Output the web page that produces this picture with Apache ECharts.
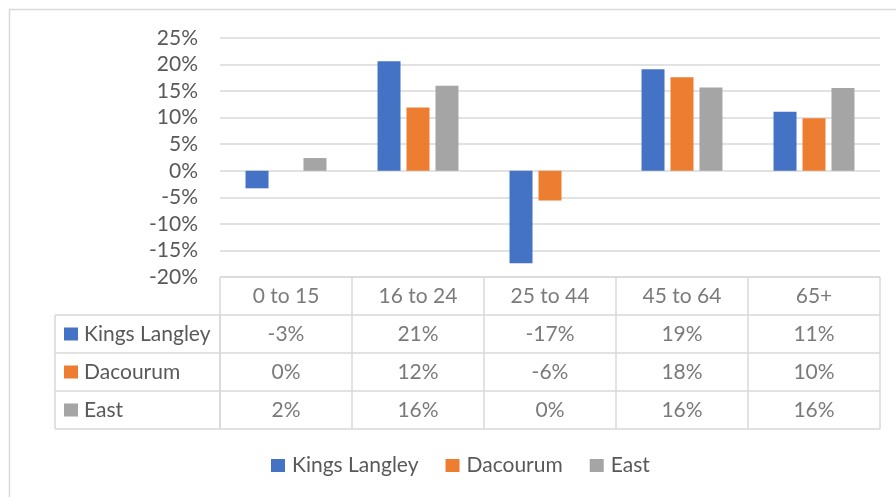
<!DOCTYPE html>
<html>
<head>
<meta charset="utf-8">
<script src="https://cdn.jsdelivr.net/npm/echarts@6/dist/echarts.min.js"></script>
<style>html,body{margin:0;padding:0;background:#fff;}#c{width:896px;height:497px;}</style>
</head>
<body>
<div id="c"></div>
<script>
const categories = ['0 to 15', '16 to 24', '25 to 44', '45 to 64', '65+'];
const seriesNames = ['Kings Langley', 'Dacourum', 'East'];
const kingsLangley = [-3.3, 20.6, -17.4, 19.1, 11.1];
const dacourum = [0, 11.9, -5.6, 17.6, 9.9];
const east = [2.4, 16.0, 0, 15.7, 15.6];
const yMin = -20, yMax = 25, yStep = 5;

const colors = ['#4472C4', '#ED7D31', '#A5A5A5'];
const FONT = 'Lato';
const FS = 21;
const TXT = '#595959';
const LINE = '#d9d9d9';

const allSeries = [kingsLangley, dacourum, east];

// table cells built from the arrays
const cellData = [];
categories.forEach((c, i) => cellData.push([i, 0.5, c]));
allSeries.forEach((arr, r) => arr.forEach((v, i) => cellData.push([i, r + 1.5, Math.round(v) + '%'])));

const rich = { t: { fontFamily: FONT, fontSize: FS, color: TXT, padding: [0, 0, 0, 6] } };
colors.forEach((col, i) => { rich['s' + i] = { width: 14, height: 13, backgroundColor: col }; });

const chart = echarts.init(document.getElementById('c'), null, { renderer: 'canvas' });
chart.setOption({
  animation: false,
  color: colors,
  textStyle: { fontFamily: FONT },
  graphic: [{
    type: 'rect', shape: { x: 9.5, y: 9.5, width: 900, height: 500 },
    style: { fill: 'none', stroke: LINE, lineWidth: 1.5 }, silent: true, z: -10
  }],
  legend: {
    data: seriesNames, left: 266, top: 450, icon: 'rect', itemWidth: 14, itemHeight: 13, itemGap: 27,
    textStyle: { fontFamily: FONT, fontSize: FS, color: TXT, padding: [0, 0, 0, 2] }
  },
  grid: [
    { left: 220, right: 16, top: 38, height: 239 },
    { left: 220, right: 16, top: 277, height: 152 },
    { left: 55, width: 165, top: 315, height: 114 }
  ],
  xAxis: [
    { type: 'category', data: categories, gridIndex: 0, axisLine: { show: false }, axisTick: { show: false }, axisLabel: { show: false } },
    { type: 'category', data: categories, gridIndex: 1, axisLine: { show: false }, axisTick: { show: false }, axisLabel: { show: false },
      splitLine: { show: true, lineStyle: { color: LINE, width: 1.5 } } },
    { type: 'value', gridIndex: 2, min: 0, max: 1, interval: 1, axisLine: { show: false }, axisTick: { show: false }, axisLabel: { show: false },
      splitLine: { show: true, lineStyle: { color: LINE, width: 1.5 } } }
  ],
  yAxis: [
    { type: 'value', gridIndex: 0, min: yMin, max: yMax, interval: yStep,
      axisLine: { show: false }, axisTick: { show: false },
      axisLabel: { formatter: '{value}%', color: TXT, fontSize: FS, fontFamily: FONT, margin: 22 },
      splitLine: { lineStyle: { color: LINE, width: 1.5 } } },
    { type: 'value', gridIndex: 1, min: 0, max: 4, interval: 1, inverse: true,
      axisLine: { show: false }, axisTick: { show: false }, axisLabel: { show: false },
      splitLine: { show: true, lineStyle: { color: LINE, width: 1.5 } } },
    { type: 'category', gridIndex: 2, data: seriesNames, inverse: true,
      axisLine: { show: false }, axisTick: { show: false },
      axisLabel: { inside: true, margin: 9, formatter: (v, i) => '{s' + i + '|}{t|' + v + '}', rich: rich },
      splitLine: { show: true, lineStyle: { color: LINE, width: 1.5 } } }
  ],
  series: [
    ...seriesNames.map((n, i) => ({
      name: n, type: 'bar', xAxisIndex: 0, yAxisIndex: 0, data: allSeries[i],
      barWidth: 23, barGap: '26%', itemStyle: { color: colors[i] }
    })),
    { type: 'scatter', xAxisIndex: 1, yAxisIndex: 1, data: cellData, symbolSize: 0, silent: true,
      label: { show: true, position: 'inside', formatter: p => p.data[2], fontFamily: FONT, fontSize: FS, color: TXT } }
  ]
});
</script>
</body>
</html>
